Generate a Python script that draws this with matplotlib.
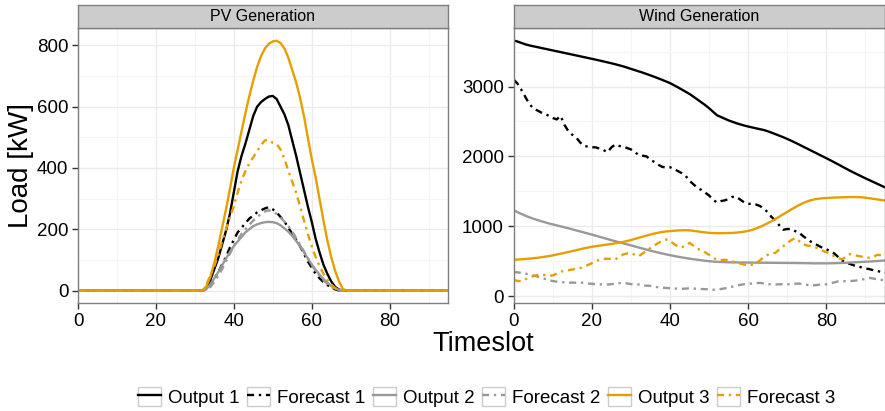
import numpy as np
import matplotlib
matplotlib.use('Agg')
import matplotlib.pyplot as plt
from matplotlib.patches import Rectangle
from matplotlib.lines import Line2D

plt.rcParams['font.family'] = ['Liberation Sans', 'DejaVu Sans']

timeslot = np.arange(96)

# PV generation [kW], zero at night
pv_output1 = [0]*32 + [0, 10, 35, 70, 105, 150, 195, 250, 320, 390, 440, 480, 525, 570, 600, 615, 625, 633, 635, 625,
                       600, 575, 540, 490, 440, 385, 330, 275, 225, 170, 125, 85, 55, 30, 12, 3, 0] + [0]*27
pv_forecast1 = [0]*32 + [0, 5, 20, 40, 60, 85, 110, 140, 165, 190, 205, 220, 235, 245, 255, 262, 268, 272, 265, 255,
                         240, 225, 205, 185, 165, 145, 120, 95, 75, 55, 40, 28, 18, 10, 4, 0, 0] + [0]*27
pv_output2 = [0]*32 + [0, 5, 20, 40, 60, 82, 105, 125, 145, 160, 175, 190, 200, 210, 216, 220, 223, 224, 223, 220,
                       213, 203, 192, 178, 162, 145, 125, 105, 85, 68, 52, 38, 26, 15, 7, 2, 0] + [0]*27
pv_forecast2 = [0]*32 + [0, 2, 12, 28, 48, 70, 95, 120, 145, 165, 185, 200, 215, 228, 240, 250, 258, 262, 258, 250,
                         238, 225, 210, 192, 172, 150, 128, 105, 85, 65, 48, 34, 22, 12, 5, 0, 0] + [0]*27
pv_output3 = [0]*32 + [0, 15, 45, 90, 145, 205, 265, 330, 400, 460, 520, 580, 635, 685, 730, 765, 790, 805, 813, 815,
                       808, 790, 760, 720, 680, 630, 570, 500, 430, 370, 300, 230, 165, 110, 65, 30, 5] + [0]*27
pv_forecast3 = [0]*32 + [0, 20, 50, 80, 115, 160, 200, 240, 275, 320, 360, 390, 415, 435, 455, 475, 490, 492, 482, 478,
                         460, 430, 390, 355, 320, 275, 230, 185, 145, 110, 80, 55, 35, 20, 8, 2, 0] + [0]*27

# wind generation [kW]
wind_output1 = [3660, 3645, 3625, 3605, 3590, 3578, 3566, 3554, 3542, 3530, 3518, 3506, 3494, 3482, 3470, 3458,
                3446, 3434, 3422, 3410, 3398, 3386, 3373, 3360, 3347, 3334, 3320, 3305, 3290, 3272, 3254, 3236,
                3218, 3200, 3180, 3160, 3140, 3118, 3096, 3073, 3050, 3020, 2990, 2958, 2926, 2894, 2855, 2815,
                2775, 2735, 2690, 2640, 2590, 2565, 2540, 2515, 2495, 2475, 2458, 2442, 2428, 2415, 2402, 2390,
                2378, 2360, 2340, 2318, 2296, 2274, 2250, 2224, 2198, 2170, 2142, 2114, 2086, 2058, 2030, 2002,
                1974, 1945, 1916, 1886, 1856, 1826, 1796, 1768, 1740, 1713, 1686, 1660, 1634, 1608, 1582, 1556]
wind_forecast1 = [3100, 3040, 2950, 2850, 2750, 2690, 2660, 2630, 2610, 2580, 2550, 2530, 2580, 2450, 2360, 2310,
                  2270, 2200, 2150, 2140, 2130, 2130, 2110, 2090, 2060, 2130, 2170, 2150, 2140, 2120, 2100, 2060,
                  2020, 2010, 2000, 1950, 1920, 1880, 1850, 1840, 1845, 1820, 1790, 1760, 1720, 1650, 1600, 1550,
                  1520, 1480, 1440, 1380, 1340, 1360, 1370, 1390, 1420, 1420, 1380, 1340, 1320, 1320, 1310, 1290,
                  1250, 1200, 1130, 1080, 1010, 950, 960, 960, 930, 910, 860, 820, 780, 750, 720, 690,
                  670, 640, 610, 560, 510, 480, 460, 440, 425, 410, 395, 385, 370, 360, 345, 335]
wind_output2 = [1230, 1200, 1175, 1150, 1128, 1108, 1090, 1072, 1056, 1040, 1026, 1012, 998, 984, 970, 955,
                940, 925, 910, 895, 880, 864, 848, 832, 816, 800, 785, 770, 755, 740, 725, 710,
                695, 680, 665, 650, 636, 622, 609, 597, 585, 574, 563, 553, 544, 535, 527, 519,
                512, 505, 499, 494, 490, 487, 485, 483, 482, 481, 480, 480, 479, 478, 478, 477,
                477, 476, 476, 475, 475, 474, 474, 473, 473, 472, 471, 470, 469, 468, 468, 468,
                468, 469, 470, 472, 474, 476, 479, 482, 485, 488, 491, 494, 497, 501, 505, 510]
wind_forecast2 = [340, 340, 330, 320, 310, 295, 280, 265, 245, 225, 215, 205, 200, 195, 190, 192,
                  190, 192, 190, 180, 175, 170, 168, 165, 165, 170, 180, 185, 190, 180, 170, 168,
                  165, 155, 148, 145, 135, 125, 120, 115, 112, 108, 105, 104, 106, 110, 108, 102,
                  100, 98, 95, 90, 92, 100, 110, 120, 135, 150, 160, 170, 175, 180, 185, 188,
                  180, 170, 168, 165, 168, 170, 168, 172, 176, 178, 170, 160, 150, 155, 160, 165,
                  168, 180, 195, 210, 215, 212, 214, 218, 225, 235, 245, 260, 250, 240, 232, 228]
wind_output3 = [520, 522, 526, 531, 536, 541, 547, 555, 563, 572, 582, 594, 606, 618, 631, 644,
                657, 670, 683, 694, 705, 714, 722, 730, 738, 746, 755, 765, 775, 788, 802, 818,
                834, 850, 866, 881, 895, 907, 917, 925, 930, 935, 939, 941, 942, 940, 934, 926,
                918, 911, 905, 902, 900, 900, 901, 902, 904, 908, 914, 922, 932, 948, 967, 990,
                1015, 1043, 1073, 1105, 1138, 1172, 1206, 1240, 1272, 1302, 1330, 1353, 1372, 1385, 1394, 1400,
                1404, 1407, 1410, 1412, 1414, 1416, 1418, 1418, 1417, 1414, 1408, 1400, 1392, 1384, 1376, 1368]
wind_forecast3 = [230, 215, 215, 240, 265, 285, 300, 305, 300, 290, 295, 320, 350, 360, 370, 380,
                  390, 400, 420, 445, 470, 500, 520, 530, 535, 530, 525, 560, 595, 610, 615, 590,
                  570, 610, 645, 690, 725, 760, 790, 810, 790, 745, 710, 695, 730, 760, 720, 680,
                  650, 625, 590, 550, 520, 515, 520, 510, 495, 478, 465, 450, 440, 450, 470, 510,
                  560, 590, 605, 620, 670, 715, 760, 800, 830, 790, 740, 725, 715, 700, 680, 650,
                  630, 600, 570, 545, 525, 560, 600, 590, 575, 565, 555, 548, 560, 590, 585, 580]

labels = ['Output 1', 'Forecast 1', 'Output 2', 'Forecast 2', 'Output 3', 'Forecast 3']
colors = ['black', 'black', '#999999', '#999999', '#E69F00', '#E69F00']
dotdash = (0, (3, 2, 1, 2))
styles = ['-', dotdash, '-', dotdash, '-', dotdash]

W, H = 885, 411
fig = plt.figure(figsize=(W/100, H/100), dpi=100)

def px_axes(x0, x1, ytop, ybot):
    return [x0/W, 1 - ybot/H, (x1 - x0)/W, (ybot - ytop)/H]

panels = [
    ('PV Generation', px_axes(78, 448, 28.3, 303),
     [pv_output1, pv_forecast1, pv_output2, pv_forecast2, pv_output3, pv_forecast3],
     (-40.75, 855.75), np.arange(0, 801, 200), np.arange(100, 800, 200)),
    ('Wind Generation', px_axes(513.7, 885, 28.3, 303),
     [wind_output1, wind_forecast1, wind_output2, wind_forecast2, wind_output3, wind_forecast3],
     (-100, 3835), np.arange(0, 3001, 1000), np.arange(500, 3600, 1000)),
]

for title, rect, series, ylim, yticks, yminor in panels:
    ax = fig.add_axes(rect)
    for vals, c, ls, lab in zip(series, colors, styles, labels):
        ax.plot(timeslot, vals, color=c, linestyle=ls, lw=1.7, label=lab)
    ax.set_xlim(0, 95)
    ax.set_ylim(*ylim)
    ax.set_xticks(np.arange(0, 81, 20))
    ax.set_xticks(np.arange(10, 95, 20), minor=True)
    ax.set_yticks(yticks)
    ax.set_yticks(yminor, minor=True)
    ax.grid(which='major', color='#EBEBEB', lw=1.0)
    ax.grid(which='minor', color='#F5F5F5', lw=0.8)
    ax.set_axisbelow(True)
    for s in ax.spines.values():
        s.set_color('#7F7F7F')
        s.set_linewidth(1.0)
    ax.tick_params(which='major', length=4, width=1, color='#333333', labelsize=13.5, pad=3)
    ax.tick_params(which='minor', length=0)

    # facet strip on top
    strip = fig.add_axes([rect[0], rect[1] + rect[3], rect[2], 23.3/H])
    strip.set_facecolor('#CCCCCC')
    strip.set_xticks([])
    strip.set_yticks([])
    for s in strip.spines.values():
        s.set_color('#7F7F7F')
        s.set_linewidth(1.0)
    strip.text(0.5, 0.5, title, ha='center', va='center', fontsize=11.5, transform=strip.transAxes)

fig.text(21/W, 1 - 165.5/H, 'Load [kW]', rotation=90, ha='center', va='center', fontsize=20)
fig.text(483/W, 1 - 344/H, 'Timeslot', ha='center', va='center', fontsize=19.5)

# legend keys: light boxed square with the line on top
handles = []
for c, ls in zip(colors, styles):
    box = Rectangle((0, 0), 1, 1, facecolor='white', edgecolor='#CCCCCC', lw=1.0)
    ln = Line2D([], [], color=c, linestyle=ls, lw=1.7)
    handles.append((box, ln))

fig.legend(handles, labels, loc='center', bbox_to_anchor=(487/W, 1 - 397/H), ncol=6, frameon=False,
           fontsize=13.5, handlelength=1.2, handleheight=1.2, handletextpad=0.4, columnspacing=0.4,
           borderpad=0)

fig.savefig('out.png', dpi=100)
